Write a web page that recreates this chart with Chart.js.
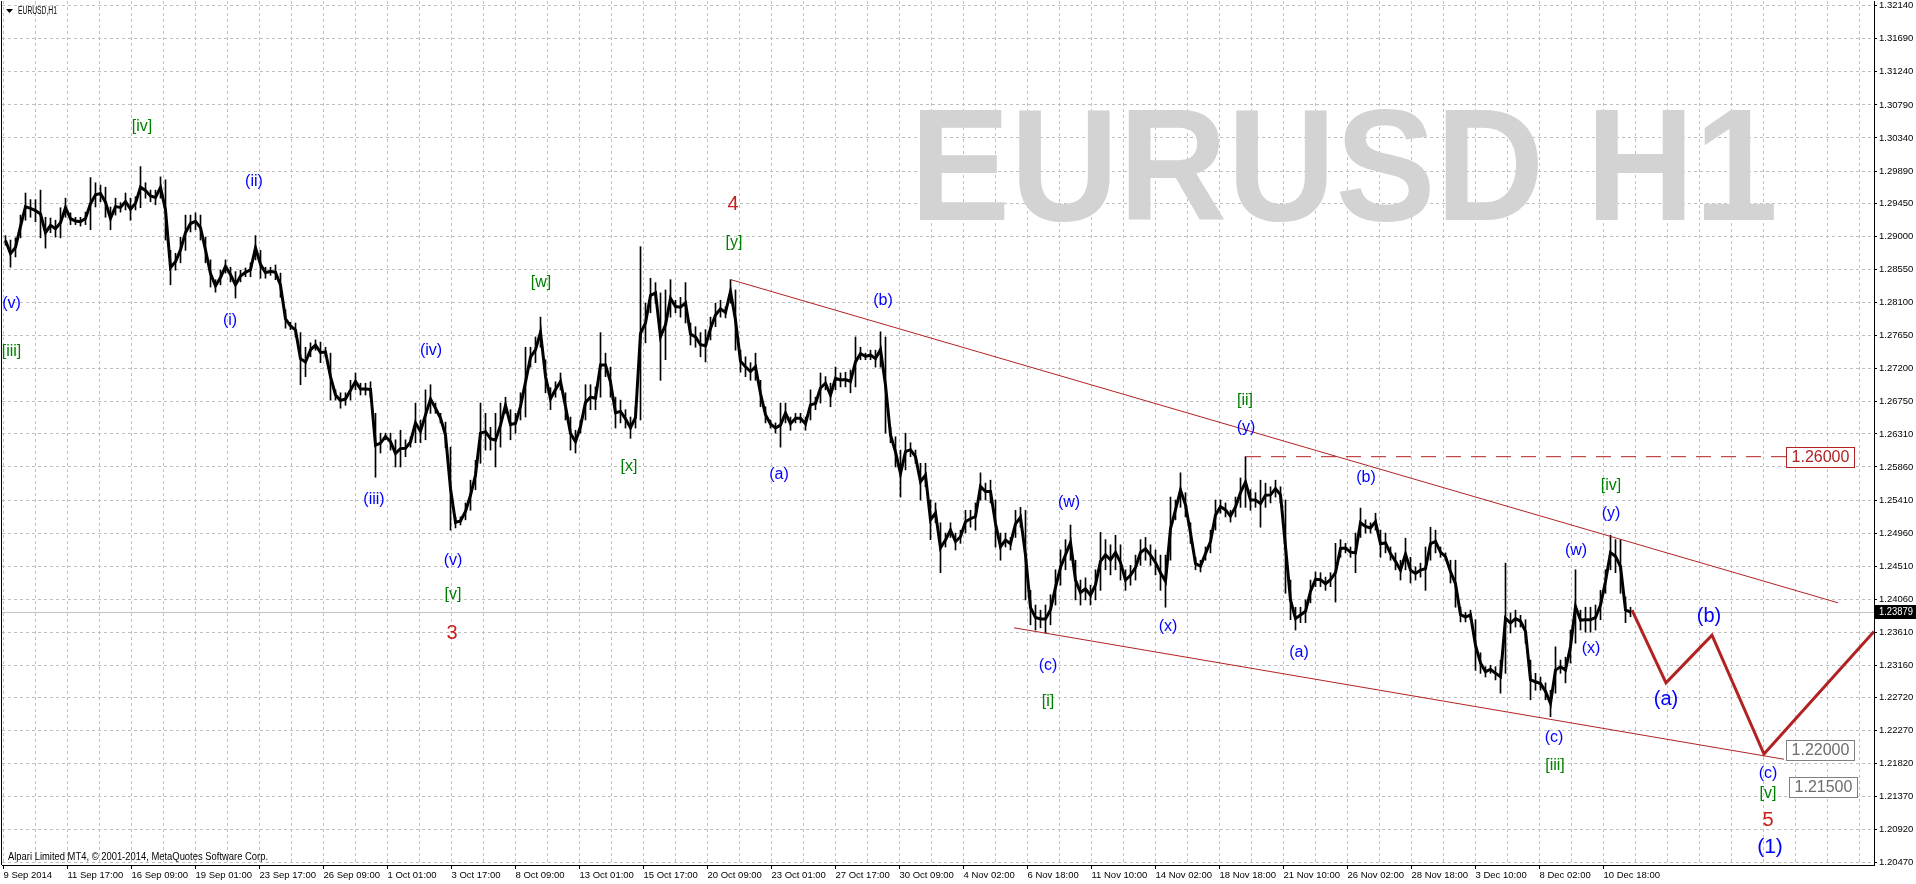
<!DOCTYPE html>
<html>
<head>
<meta charset="utf-8">
<script src="https://cdn.jsdelivr.net/npm/chart.js@4.4.1/dist/chart.umd.min.js"></script>
<style>
  html, body { margin: 0; padding: 0; background: #fff; overflow: hidden; }
  canvas { display: block; }
</style>
</head>
<body>
<canvas id="c" width="1916" height="884" style="width:1916px;height:884px"></canvas>
<script>
// ---------------- DATA ----------------
const symbolTitle = 'EURUSD,H1';
const watermarkText = 'EURUSD H1';
const copyrightText = 'Alpari Limited MT4, \u00A9 2001-2014, MetaQuotes Software Corp.';

// hourly bars, sampled every 5 bars: highs and lows
const barsPerSample = 5;
const highs = [
1.2901,1.2895,1.2898,1.2929,1.2959,1.2950,1.2950,1.2963,1.2926,1.2925,
1.2922,1.2939,1.2952,1.2932,1.2926,1.2926,1.2933,1.2980,1.2973,1.2970,
1.2967,1.2940,1.2952,1.2946,1.2959,1.2952,1.2954,1.2995,1.2973,1.2963,
1.2963,1.2981,1.2977,1.2881,1.2877,1.2899,1.2929,1.2929,1.2932,1.2929,
1.2899,1.2868,1.2841,1.2854,1.2868,1.2858,1.2852,1.2854,1.2857,1.2864,
1.2901,1.2881,1.2858,1.2858,1.2861,1.2850,1.2800,1.2783,1.2782,1.2769,
1.2749,1.2755,1.2759,1.2756,1.2749,1.2741,1.2691,1.2687,1.2687,1.2704,
1.2714,1.2700,1.2700,1.2702,1.2659,1.2632,1.2632,1.2632,1.2623,1.2636,
1.2623,1.2627,1.2673,1.2650,1.2691,1.2698,1.2673,1.2659,1.2647,1.2613,
1.2518,1.2518,1.2537,1.2568,1.2595,1.2673,1.2659,1.2640,1.2659,1.2673,
1.2681,1.2664,1.2659,1.2687,1.2749,1.2749,1.2763,1.2790,1.2732,1.2694,
1.2702,1.2714,1.2687,1.2654,1.2636,1.2650,1.2698,1.2698,1.2695,1.2769,
1.2741,1.2722,1.2681,1.2677,1.2664,1.2654,1.2668,1.2886,1.2809,1.2843,
1.2837,1.2823,1.2827,1.2841,1.2813,1.2817,1.2837,1.2782,1.2777,1.2769,
1.2773,1.2790,1.2809,1.2813,1.2804,1.2841,1.2827,1.2745,1.2736,1.2728,
1.2741,1.2704,1.2668,1.2650,1.2646,1.2673,1.2673,1.2654,1.2659,1.2659,
1.2654,1.2691,1.2681,1.2714,1.2709,1.2700,1.2722,1.2714,1.2715,1.2718,
1.2763,1.2749,1.2741,1.2745,1.2745,1.2770,1.2763,1.2640,1.2627,1.2609,
1.2632,1.2619,1.2609,1.2591,1.2591,1.2541,1.2537,1.2510,1.2496,1.2510,
1.2496,1.2500,1.2527,1.2527,1.2537,1.2578,1.2564,1.2568,1.2541,1.2496,
1.2496,1.2490,1.2527,1.2531,1.2527,1.2418,1.2398,1.2391,1.2398,1.2412,
1.2446,1.2473,1.2487,1.2507,1.2459,1.2432,1.2435,1.2425,1.2446,1.2497,
1.2487,1.2480,1.2493,1.2480,1.2446,1.2452,1.2466,1.2487,1.2490,1.2480,
1.2473,1.2466,1.2466,1.2545,1.2541,1.2578,1.2551,1.2510,1.2463,1.2459,
1.2477,1.2500,1.2541,1.2541,1.2537,1.2527,1.2545,1.2571,1.2600,1.2555,
1.2551,1.2568,1.2564,1.2559,1.2568,1.2559,1.2541,1.2432,1.2395,1.2395,
1.2405,1.2432,1.2443,1.2442,1.2436,1.2442,1.2482,1.2487,1.2482,1.2477,
1.2496,1.2530,1.2514,1.2510,1.2523,1.2500,1.2496,1.2477,1.2469,1.2459,
1.2489,1.2463,1.2450,1.2455,1.2477,1.2504,1.2500,1.2477,1.2469,1.2459,
1.2459,1.2395,1.2388,1.2391,1.2378,1.2333,1.2314,1.2316,1.2314,1.2323,
1.2455,1.2387,1.2391,1.2384,1.2378,1.2323,1.2305,1.2300,1.2292,1.2282,
1.2341,1.2323,1.2327,1.2364,1.2446,1.2391,1.2395,1.2395,1.2398,1.2418,
1.2446,1.2493,1.2487,1.2487,1.2409,1.2395
];
const lows = [
1.2888,1.2858,1.2872,1.2898,1.2922,1.2926,1.2920,1.2898,1.2884,1.2905,
1.2899,1.2898,1.2926,1.2916,1.2916,1.2914,1.2916,1.2909,1.2940,1.2947,
1.2926,1.2909,1.2929,1.2933,1.2936,1.2922,1.2936,1.2939,1.2952,1.2947,
1.2943,1.2952,1.2895,1.2834,1.2854,1.2864,1.2881,1.2906,1.2909,1.2895,
1.2864,1.2831,1.2824,1.2834,1.2850,1.2838,1.2816,1.2838,1.2845,1.2845,
1.2868,1.2843,1.2843,1.2847,1.2841,1.2817,1.2775,1.2773,1.2763,1.2698,
1.2709,1.2736,1.2745,1.2728,1.2736,1.2677,1.2677,1.2666,1.2670,1.2677,
1.2691,1.2684,1.2684,1.2681,1.2572,1.2605,1.2623,1.2609,1.2586,1.2586,
1.2600,1.2613,1.2619,1.2619,1.2623,1.2659,1.2659,1.2646,1.2612,1.2500,
1.2503,1.2507,1.2514,1.2527,1.2555,1.2591,1.2609,1.2609,1.2586,1.2613,
1.2659,1.2623,1.2632,1.2650,1.2654,1.2722,1.2728,1.2749,1.2687,1.2664,
1.2681,1.2691,1.2650,1.2609,1.2605,1.2632,1.2650,1.2664,1.2664,1.2681,
1.2709,1.2681,1.2639,1.2646,1.2639,1.2625,1.2639,1.2650,1.2755,1.2796,
1.2809,1.2704,1.2732,1.2790,1.2796,1.2790,1.2782,1.2752,1.2749,1.2736,
1.2729,1.2759,1.2777,1.2790,1.2789,1.2809,1.2745,1.2715,1.2709,1.2704,
1.2704,1.2668,1.2646,1.2639,1.2632,1.2613,1.2646,1.2636,1.2646,1.2646,
1.2636,1.2650,1.2664,1.2673,1.2691,1.2668,1.2691,1.2695,1.2695,1.2687,
1.2695,1.2732,1.2732,1.2732,1.2722,1.2722,1.2632,1.2619,1.2586,1.2545,
1.2582,1.2600,1.2591,1.2541,1.2559,1.2487,1.2510,1.2442,1.2477,1.2490,
1.2473,1.2482,1.2496,1.2504,1.2500,1.2541,1.2541,1.2537,1.2477,1.2459,
1.2477,1.2473,1.2490,1.2504,1.2405,1.2371,1.2364,1.2367,1.2360,1.2371,
1.2398,1.2425,1.2446,1.2459,1.2405,1.2398,1.2405,1.2398,1.2405,1.2418,
1.2446,1.2439,1.2446,1.2432,1.2418,1.2425,1.2432,1.2452,1.2459,1.2452,
1.2439,1.2418,1.2395,1.2459,1.2514,1.2531,1.2518,1.2482,1.2446,1.2443,
1.2459,1.2469,1.2500,1.2523,1.2518,1.2511,1.2518,1.2531,1.2531,1.2527,
1.2531,1.2504,1.2531,1.2537,1.2545,1.2537,1.2414,1.2378,1.2364,1.2374,
1.2374,1.2401,1.2423,1.2423,1.2418,1.2423,1.2402,1.2463,1.2469,1.2463,
1.2442,1.2490,1.2496,1.2496,1.2500,1.2463,1.2469,1.2459,1.2446,1.2432,
1.2446,1.2428,1.2432,1.2436,1.2418,1.2459,1.2469,1.2463,1.2459,1.2428,
1.2395,1.2375,1.2375,1.2378,1.2309,1.2305,1.2300,1.2305,1.2296,1.2278,
1.2305,1.2360,1.2368,1.2368,1.2346,1.2269,1.2282,1.2282,1.2269,1.2246,
1.2278,1.2305,1.2292,1.2319,1.2346,1.2364,1.2361,1.2361,1.2364,1.2378,
1.2414,1.2446,1.2442,1.2414,1.2374,1.2382
];

const currentPrice = 1.23879;

// x-axis labels, one every 64 hourly bars
const xLabels = ['9 Sep 2014','11 Sep 17:00','16 Sep 09:00','19 Sep 01:00','23 Sep 17:00','26 Sep 09:00',
  '1 Oct 01:00','3 Oct 17:00','8 Oct 09:00','13 Oct 01:00','15 Oct 17:00','20 Oct 09:00','23 Oct 01:00',
  '27 Oct 17:00','30 Oct 09:00','4 Nov 02:00','6 Nov 18:00','11 Nov 10:00','14 Nov 02:00','18 Nov 18:00',
  '21 Nov 10:00','26 Nov 02:00','28 Nov 18:00','3 Dec 10:00','8 Dec 02:00','10 Dec 18:00'];
const barsPerLabel = 64;

// price-axis ticks
const yTicks = [1.32140,1.31690,1.31240,1.30790,1.30340,1.29890,1.29450,1.29000,1.28550,1.28100,
  1.27650,1.27200,1.26750,1.26310,1.25860,1.25410,1.24960,1.24510,1.24060,1.23610,1.23160,
  1.22720,1.22270,1.21820,1.21370,1.20920,1.20470];

// trend lines: [barIndex, price]
const upperTrend = [[727.5, 1.2841], [1834.5, 1.2401]];
const lowerTrend = [[1010.5, 1.2367], [1780.5, 1.2188]];
const level126 = [[1242.5, 1.2600], [1782.5, 1.2600]];
const projection = [[1628.5, 1.2391], [1662.5, 1.2292], [1708.5, 1.2357], [1760.5, 1.2195], [1870.5, 1.2362]];

// price level tags: [text, barIndex(left), price, kind]
const priceTags = [['1.26000', 1782.5, 1.2600, 'target'], ['1.22000', 1782.5, 1.2200, 'support'], ['1.21500', 1785.5, 1.2150, 'support']];

// Elliott wave labels: [text, barIndex, price, degree]
const waveLabels = [
  ['(v)', 8, 1.2808, 'minor'], ['[iii]', 8, 1.2743, 'minute'],
  ['[iv]', 138.5, 1.3050, 'minute'], ['(ii)', 250.5, 1.2974, 'minor'], ['(i)', 226.5, 1.2785, 'minor'],
  ['(iii)', 370.5, 1.2541, 'minor'], ['(iv)', 427.5, 1.2744, 'minor'],
  ['(v)', 449.5, 1.2458, 'minor'], ['[v]', 449.5, 1.2412, 'minute'], ['3', 448.5, 1.2359, 'intermediate'],
  ['[w]', 537.5, 1.2837, 'minute'], ['[x]', 625.5, 1.2586, 'minute'],
  ['4', 729.5, 1.2943, 'intermediate'], ['[y]', 730.5, 1.2892, 'minute'],
  ['(a)', 775.5, 1.2575, 'minor'], ['(b)', 879.5, 1.2813, 'minor'],
  ['(w)', 1065.5, 1.2537, 'minor'], ['(x)', 1164.5, 1.2368, 'minor'],
  ['(c)', 1044.5, 1.2315, 'minor'], ['[i]', 1044.5, 1.2267, 'minute'],
  ['[ii]', 1241.5, 1.2676, 'minute'], ['(y)', 1242.5, 1.2639, 'minor'],
  ['(a)', 1295.5, 1.2333, 'minor'], ['(b)', 1362.5, 1.2571, 'minor'],
  ['(c)', 1550.5, 1.2217, 'minor'], ['[iii]', 1551.5, 1.2179, 'minute'],
  ['(w)', 1572.5, 1.2472, 'minor'], ['(x)', 1587.5, 1.2339, 'minor'],
  ['[iv]', 1607.5, 1.2561, 'minute'], ['(y)', 1607.5, 1.2523, 'minor'],
  ['(a)', 1662.5, 1.2269, 'minorBig'], ['(b)', 1705.5, 1.2382, 'minorBig'],
  ['(c)', 1764.5, 1.2169, 'minor'], ['[v]', 1764.5, 1.2141, 'minute'],
  ['5', 1764.5, 1.2104, 'intermediate'], ['(1)', 1766.5, 1.2068, 'primary']
];

// ---------------- STYLES ----------------
const FONT = '"Liberation Sans", Arial, sans-serif';
const AXFONT = '"Liberation Sans", Arial, sans-serif';
const RED = '#b22222';
const degreeStyle = {
  minor: { color: '#0000ff', size: 16 },
  minorBig: { color: '#0000ff', size: 20 },
  primary: { color: '#0000ff', size: 21 },
  minute: { color: '#008000', size: 16 },
  intermediate: { color: '#c81e1e', size: 20 }
};
const tagStyle = {
  target: { color: RED, text: RED },
  support: { color: '#808080', text: '#6d6d6d' }
};

// ---------------- CHART ----------------
const sampleX = j => j * barsPerSample + (barsPerSample - 1) / 2;
const candleRange = highs.map((h, j) => ({ x: sampleX(j), y: [lows[j], h] }));
const candlePath = highs.map((h, j) => ({ x: sampleX(j), y: (h + lows[j]) / 2 }));
const toXY = arr => arr.map(p => ({ x: p[0], y: p[1] }));

const xMin = -1.5, xMax = 1870.5;

function drawScaledText(ctx, text, x, y, size, width) {
  ctx.save();
  ctx.font = size + 'px ' + AXFONT;
  const w = ctx.measureText(text).width;
  ctx.translate(x, y);
  ctx.scale(width / w, 1);
  ctx.fillText(text, 0, 0);
  ctx.restore();
}

const mtPlugin = {
  id: 'mt',
  beforeDatasetsDraw(chart) {
    const { ctx, chartArea: a } = chart;
    ctx.save();
    ctx.beginPath(); ctx.rect(a.left, a.top, a.right - a.left, a.bottom - a.top); ctx.clip();
    ctx.font = 'bold 160px ' + FONT;
    ctx.fillStyle = '#d3d3d3';
    ctx.textBaseline = 'alphabetic';
    const w = ctx.measureText(watermarkText).width;
    ctx.translate(910, 220);
    ctx.scale(868 / w, 1);
    ctx.fillText(watermarkText, 0, 0);
    ctx.restore();
  },
  afterDatasetsDraw(chart) {
    const { ctx, scales: { x, y } } = chart;
    ctx.save();
    ctx.textAlign = 'center';
    ctx.textBaseline = 'middle';
    waveLabels.forEach(([t, i, p, d]) => {
      const s = degreeStyle[d];
      ctx.font = s.size + 'px ' + FONT;
      ctx.fillStyle = s.color;
      ctx.fillText(t, x.getPixelForValue(i), y.getPixelForValue(p));
    });
    priceTags.forEach(([t, i, p, k]) => {
      const s = tagStyle[k];
      const px = Math.round(x.getPixelForValue(i)) + 0.5;
      const py = Math.round(y.getPixelForValue(p) - 10) + 0.5;
      ctx.fillStyle = '#fff';
      ctx.fillRect(px, py, 68, 20);
      ctx.strokeStyle = s.color; ctx.lineWidth = 1;
      ctx.strokeRect(px, py, 68, 20);
      ctx.font = '16px ' + FONT;
      ctx.fillStyle = s.text;
      ctx.fillText(t, px + 34, py + 10.5);
    });
    ctx.restore();
  },
  afterDraw(chart) {
    const { ctx, chartArea: a, scales: { y } } = chart;
    ctx.save();
    ctx.strokeStyle = '#000'; ctx.lineWidth = 1;
    ctx.beginPath(); ctx.moveTo(a.left - 0.5, a.top); ctx.lineTo(a.left - 0.5, a.bottom); ctx.stroke();
    const py = Math.round(y.getPixelForValue(currentPrice));
    ctx.fillStyle = '#000';
    ctx.fillRect(a.right + 1, py - 7, 1916 - a.right - 1, 14);
    ctx.fillStyle = '#fff';
    ctx.textAlign = 'left'; ctx.textBaseline = 'middle';
    drawScaledText(ctx, currentPrice.toFixed(5), a.right + 5, py + 0.5, 10, 34);
    ctx.fillStyle = '#000';
    ctx.beginPath(); ctx.moveTo(6, 9); ctx.lineTo(13, 9); ctx.lineTo(9.5, 13); ctx.closePath(); ctx.fill();
    drawScaledText(ctx, symbolTitle, 18, 11, 10, 39);
    drawScaledText(ctx, copyrightText, 8, 857, 10, 260);
    ctx.restore();
  }
};

new Chart(document.getElementById('c'), {
  type: 'bar',
  data: {
    datasets: [
      { type: 'line', data: toXY([[xMin, currentPrice], [xMax, currentPrice]]), borderColor: '#c0c0c0', borderWidth: 1, pointRadius: 0, order: 6 },
      { type: 'bar', data: candleRange, backgroundColor: '#000', borderWidth: 0, barThickness: 1, order: 5 },
      { type: 'line', data: candlePath, borderColor: '#000', borderWidth: 3, pointRadius: 0, tension: 0, order: 4 },
      { type: 'line', data: toXY(upperTrend), borderColor: RED, borderWidth: 1, pointRadius: 0, order: 3 },
      { type: 'line', data: toXY(lowerTrend), borderColor: RED, borderWidth: 1, pointRadius: 0, order: 3 },
      { type: 'line', data: toXY(level126), borderColor: RED, borderWidth: 1, borderDash: [15, 10], pointRadius: 0, order: 3 },
      { type: 'line', data: toXY(projection), borderColor: RED, borderWidth: 3, pointRadius: 0, order: 2 }
    ]
  },
  options: {
    responsive: false,
    animation: false,
    events: [],
    layout: { padding: { left: 2, top: 1, right: 0, bottom: 0 } },
    plugins: { legend: { display: false }, tooltip: { enabled: false } },
    scales: {
      x: {
        type: 'linear', min: xMin, max: xMax, offset: false,
        afterBuildTicks(s) {
          const t = [];
          for (let v = 0; v <= xMax; v += barsPerLabel / 2) t.push({ value: v });
          s.ticks = t;
        },
        afterFit(s) { s.height = 19; s.paddingLeft = 0; s.paddingRight = 0; s.paddingTop = 0; s.paddingBottom = 0; },
        ticks: {
          autoSkip: false, maxRotation: 0, minRotation: 0, align: 'start', padding: 1,
          color: '#000', font: { family: AXFONT, size: 9.5 },
          callback(v) { const k = v / barsPerLabel; return (Number.isInteger(k) && k < xLabels.length) ? xLabels[k] : ''; }
        },
        grid: {
          offset: false, color: '#c0c0c0', lineWidth: 1, tickLength: 4,
          tickColor(c) { const v = c.tick ? c.tick.value : 1; const k = v / barsPerLabel; return (Number.isInteger(k) && k < xLabels.length) ? '#000' : 'rgba(0,0,0,0)'; }
        },
        border: { color: '#000', width: 1, dash: [3, 3] }
      },
      y: {
        type: 'linear', position: 'right', min: 1.20440, max: 1.32205,
        afterBuildTicks(s) { s.ticks = yTicks.map(v => ({ value: v })); },
        afterFit(s) { s.width = 42; s.paddingLeft = 0; s.paddingRight = 0; s.paddingTop = 0; s.paddingBottom = 0; },
        ticks: {
          autoSkip: false, padding: 2, color: '#000', font: { family: AXFONT, size: 9.5 },
          callback(v) { return Number(v).toFixed(5); }
        },
        grid: { color: '#c0c0c0', lineWidth: 1, tickLength: 3, tickColor: '#000' },
        border: { color: '#000', width: 1, dash: [3, 3] }
      }
    }
  },
  plugins: [mtPlugin]
});
</script>
</body>
</html>
